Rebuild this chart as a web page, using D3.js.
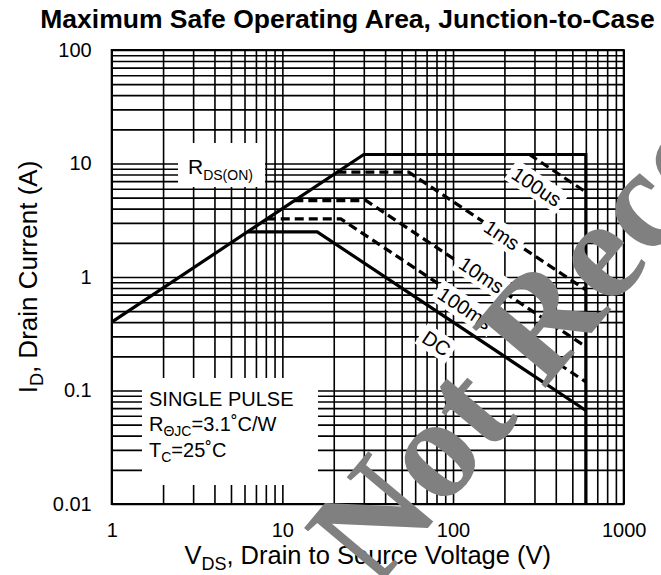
<!DOCTYPE html>
<html>
<head>
<meta charset="utf-8">
<script src="https://cdn.jsdelivr.net/npm/d3@7"></script>
<style>
	body { margin: 0; background: #fff; }
	text { font-family: "Liberation Sans", Arial, sans-serif; fill: #000; }
	text.watermark { font-family: "Liberation Serif", "Times New Roman", serif; fill: #808080; }
</style>
</head>
<body>
<div id="chart"></div>
<script>
(function () {
	//Decade tick labels
	var xTicks = [1, 10, 100, 1000];
	var yTicks = [0.01, 0.1, 1, 10, 100];

	//SOA limits as [Vds (V), Id (A)] points
	var limitLine = [[1, 0.4], [30, 12], [600, 12], [600, 0.01]];
	var us100Line = [[280, 12], [600, 5.6]];
	var ms1Line = [[21, 8.4], [55, 8.4], [600, 0.77]];
	var ms10Line = [[11.75, 4.7], [31, 4.7], [600, 0.243]];
	var ms100Line = [[8.1, 3.25], [22, 3.25], [600, 0.119]];
	var dcLine = [[6.25, 2.5], [16, 2.5], [600, 0.0667]];

	//Pulse labels and where they sit (in V, A)
	var pulseNames = ["100us", "1ms", "10ms", "100ms", "DC"];
	var pulseLabelAt = [[309, 6.25], [193, 2.34], [147, 1.04], [117.5, 0.53], [80, 0.26]];

	//Width and height
	var w = 661;
	var h = 575;
	var left = 111.7, right = 623.7, top = 50, bottom = 504;

	var svg = d3.select("#chart")
		.append("svg")
		.attr("width", w)
		.attr("height", h);

	var xScale = d3.scaleLog().domain([1, 1000]).range([left, right]);
	var yScale = d3.scaleLog().domain([0.01, 100]).range([bottom, top]);

	//Log grid: 1..9 in every decade
	var xGrid = [], yGrid = [];
	[1, 10, 100].forEach(function (d) {
		for (var k = 1; k < 10; k++) xGrid.push(k * d);
	});
	xGrid.push(1000);
	[0.01, 0.1, 1, 10].forEach(function (d) {
		for (var k = 1; k < 10; k++) yGrid.push(+(k * d).toPrecision(3));
	});
	yGrid.push(100);

	var gx = svg.append("g")
		.attr("transform", "translate(0," + bottom + ")")
		.call(d3.axisBottom(xScale).tickValues(xGrid).tickSize(-(bottom - top)).tickFormat(""));
	var gy = svg.append("g")
		.attr("transform", "translate(" + left + ",0)")
		.call(d3.axisLeft(yScale).tickValues(yGrid).tickSize(-(right - left)).tickFormat(""));
	[gx, gy].forEach(function (g) {
		g.select(".domain").remove();
		g.selectAll("line").attr("stroke", "#000").attr("stroke-width", 1.6);
	});

	//Curves
	var line = d3.line()
		.x(function (d) { return xScale(d[0]); })
		.y(function (d) { return yScale(d[1]); });

	var curves = [
		{ pts: limitLine, dash: null },
		{ pts: dcLine, dash: null },
		{ pts: us100Line, dash: "9,5" },
		{ pts: ms1Line, dash: "9,5" },
		{ pts: ms10Line, dash: "9,5" },
		{ pts: ms100Line, dash: "9,5" }
	];
	svg.selectAll("path.curve")
		.data(curves)
		.enter()
		.append("path")
		.attr("class", "curve")
		.attr("d", function (d) { return line(d.pts); })
		.attr("fill", "none")
		.attr("stroke", "#000")
		.attr("stroke-width", 3.2)
		.attr("stroke-dasharray", function (d) { return d.dash; });

	//Angle of a constant-power line on these scales
	var ang = Math.atan((yScale(1) - yScale(10)) / (xScale(10) - xScale(1))) * 180 / Math.PI;

	var labels = svg.selectAll("g.plabel")
		.data(pulseNames)
		.enter()
		.append("g")
		.attr("class", "plabel")
		.attr("transform", function (d, i) {
			return "translate(" + xScale(pulseLabelAt[i][0]) + "," + yScale(pulseLabelAt[i][1]) + ")rotate(" + ang + ")";
		});
	labels.append("text")
		.attr("text-anchor", "middle")
		.attr("dy", "0.35em")
		.attr("font-size", "20px")
		.text(function (d) { return d; });
	labels.insert("rect", "text")
		.each(function () {
			var b = this.parentNode.querySelector("text").getBBox();
			d3.select(this)
				.attr("x", b.x - 4)
				.attr("y", -12)
				.attr("width", b.width + 8)
				.attr("height", 24)
				.attr("fill", "#fff");
		});

	//RDS(ON) label
	svg.append("rect")
		.attr("x", 178).attr("y", 143)
		.attr("width", 87).attr("height", 44)
		.attr("fill", "#fff");
	var rds = svg.append("text")
		.attr("x", 188)
		.attr("y", 174)
		.attr("font-size", "21px");
	rds.append("tspan").text("R");
	rds.append("tspan").attr("font-size", "14px").attr("dy", 6).text("DS(ON)");

	//Test conditions box
	svg.append("rect")
		.attr("x", 142).attr("y", 378)
		.attr("width", 176).attr("height", 107)
		.attr("fill", "#fff");
	svg.append("text")
		.attr("x", 149).attr("y", 406)
		.attr("font-size", "20px")
		.text("SINGLE PULSE");
	var rth = svg.append("text")
		.attr("x", 149).attr("y", 431)
		.attr("font-size", "20px");
	rth.append("tspan").text("R");
	rth.append("tspan").attr("font-size", "14px").attr("dy", 5).text("ΘJC");
	rth.append("tspan").attr("dy", -5).text("=3.1˚C/W");
	var tc = svg.append("text")
		.attr("x", 149).attr("y", 457)
		.attr("font-size", "20px");
	tc.append("tspan").text("T");
	tc.append("tspan").attr("font-size", "14px").attr("dy", 5).text("C");
	tc.append("tspan").attr("dy", -5).text("=25˚C");

	//Plot border
	svg.append("rect")
		.attr("x", left).attr("y", top)
		.attr("width", right - left).attr("height", bottom - top)
		.attr("fill", "none")
		.attr("stroke", "#000")
		.attr("stroke-width", 2);

	//Tick labels
	var ax = svg.append("g")
		.attr("transform", "translate(0," + bottom + ")")
		.call(d3.axisBottom(xScale).tickValues(xTicks).tickSize(0).tickPadding(19).tickFormat(d3.format("")));
	var ay = svg.append("g")
		.attr("transform", "translate(" + left + ",0)")
		.call(d3.axisLeft(yScale).tickValues(yTicks).tickSize(0).tickPadding(20).tickFormat(function (d) { return String(d); }));
	[ax, ay].forEach(function (g) {
		g.select(".domain").remove();
		g.attr("font-family", null).attr("font-size", null);
		g.selectAll("text").attr("font-size", "20px").attr("fill", "#000");
	});

	//Title
	svg.append("text")
		.attr("x", 347.5)
		.attr("y", 28)
		.attr("text-anchor", "middle")
		.attr("font-size", "26.5px")
		.attr("font-weight", "bold")
		.text("Maximum Safe Operating Area, Junction-to-Case");

	//Axis titles
	var xl = svg.append("text")
		.attr("x", (left + right) / 2)
		.attr("y", 564)
		.attr("text-anchor", "middle")
		.attr("font-size", "25.5px");
	xl.append("tspan").text("V");
	xl.append("tspan").attr("font-size", "18px").attr("dy", 6).text("DS");
	xl.append("tspan").attr("dy", -6).text(", Drain to Source Voltage (V)");

	var yl = svg.append("text")
		.attr("transform", "translate(37," + (top + bottom) / 2 + ")rotate(-90)")
		.attr("text-anchor", "middle")
		.attr("font-size", "26px");
	yl.append("tspan").text("I");
	yl.append("tspan").attr("font-size", "18px").attr("dy", 6).text("D");
	yl.append("tspan").attr("dy", -6).text(", Drain Current (A)");

	//Watermark
	svg.append("text")
		.attr("class", "watermark")
		.attr("transform", "translate(375,591)rotate(-50)")
		.attr("font-size", "145px")
		.attr("font-weight", "bold")
		.text("Not Recommended");
})();
</script>
</body>
</html>
